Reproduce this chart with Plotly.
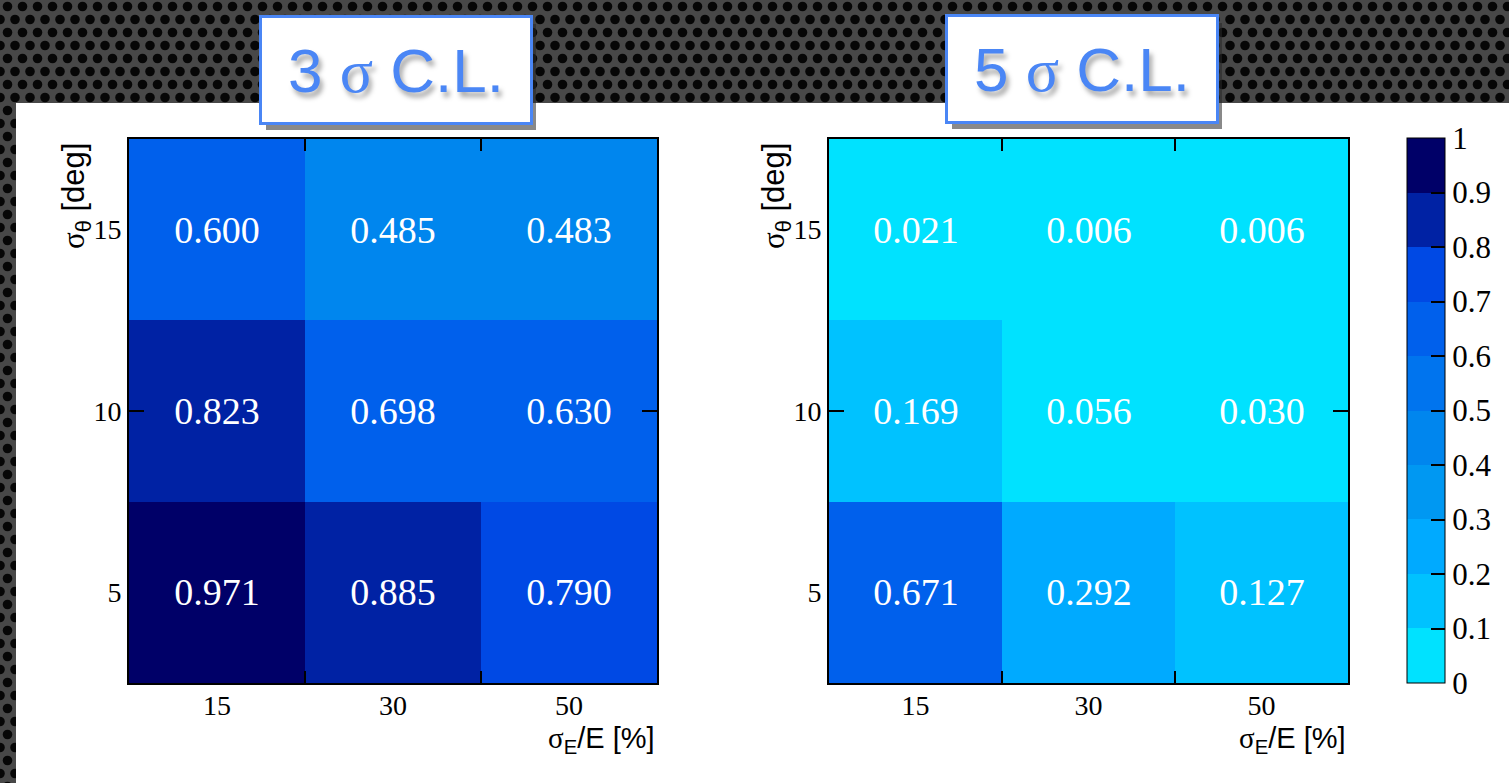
import base64
import plotly.graph_objects as go

# ---------------- data ----------------
x_labels = ["15", "30", "50"]          # sigma_E / E [%]
y_labels = [5, 10, 15]                 # sigma_theta [deg]
x_pos = [0, 1, 2]

z_3sigma = [
    [0.971, 0.885, 0.790],   # 5 deg
    [0.823, 0.698, 0.630],   # 10 deg
    [0.600, 0.485, 0.483],   # 15 deg
]
z_5sigma = [
    [0.671, 0.292, 0.127],
    [0.169, 0.056, 0.030],
    [0.021, 0.006, 0.006],
]
titles = ["3 σ C.L.", "5 σ C.L."]

bin_colors = ["#00E2FF", "#00C2FF", "#00AAFF", "#0098F2", "#0086EE",
              "#0074EE", "#0060EC", "#0049E4", "#0022A4", "#000068"]
cbar_ticks = [i / 10 for i in range(11)]
cbar_text = ["0", "0.1", "0.2", "0.3", "0.4", "0.5", "0.6", "0.7", "0.8", "0.9", "1"]

# ---------------- helpers ----------------
W, H = 1509, 783
def px(v):
    return v / W
def py(v):
    return 1 - v / H

colorscale = []
n = len(bin_colors)
for i, c in enumerate(bin_colors):
    colorscale.append([i / n, c])
    colorscale.append([(i + 1) / n, c])

svg = f'''<svg xmlns="http://www.w3.org/2000/svg" width="{W}" height="{H}">
<defs><pattern id="p" width="15" height="26" patternUnits="userSpaceOnUse">
<rect width="15" height="26" fill="#484848"/>
<circle cx="7.5" cy="6.5" r="4.8" fill="#060606"/>
<circle cx="0" cy="19.5" r="4.8" fill="#060606"/>
<circle cx="15" cy="19.5" r="4.8" fill="#060606"/>
</pattern></defs>
<rect width="{W}" height="{H}" fill="url(#p)"/>
<rect x="16" y="103" width="{W-16}" height="{H-103}" fill="white"/>
</svg>'''
bg_src = "data:image/svg+xml;base64," + base64.b64encode(svg.encode()).decode()

SERIF = "Liberation Serif"
SANS = "Liberation Sans"

fig = go.Figure()
for k, z in enumerate([z_3sigma, z_5sigma]):
    fig.add_trace(go.Heatmap(
        x=x_pos, y=y_labels, z=z,
        coloraxis="coloraxis",
        xaxis="x" if k == 0 else "x2",
        yaxis="y" if k == 0 else "y2",
        texttemplate="%{z:.3f}",
        textfont=dict(family=SERIF, size=38, color="white"),
        hoverinfo="skip",
    ))

domains_x = [[px(129), px(657)], [px(829), px(1348)]]
dom_y = [py(683), py(139)]

def xaxis_cfg(dom, anchor):
    return dict(domain=dom, anchor=anchor, range=[-0.5, 2.5],
                tickmode="array", tickvals=x_pos, ticktext=x_labels, ticks="",
                showline=True, linecolor="black", linewidth=2, mirror="ticks",
                showgrid=False, zeroline=False, ticklabelstandoff=-4,
                tickfont=dict(family=SERIF, size=28, color="black"),
                minor=dict(tickmode="array", tickvals=[0.5, 1.5], ticks="inside",
                           ticklen=12, tickwidth=2, tickcolor="black", showgrid=False))

def yaxis_cfg(anchor):
    return dict(domain=dom_y, anchor=anchor, range=[2.5, 17.5],
                tickmode="array", tickvals=y_labels, ticktext=[str(v) for v in y_labels],
                ticks="", showline=True, linecolor="black", linewidth=2, mirror="ticks",
                showgrid=False, zeroline=False,
                tickfont=dict(family=SERIF, size=28, color="black"),
                minor=dict(tickmode="array", tickvals=[10], ticks="inside",
                           ticklen=15, tickwidth=2, tickcolor="black", showgrid=False))

annotations = []
box_centers = [(396, 70), (1082, 69)]
for t, (cx, cy) in zip(titles, box_centers):
    parts = t.split("σ")
    txt = parts[0] + f'<span style="font-family:{SERIF}">σ</span>' + parts[1]
    annotations.append(dict(xref="paper", yref="paper", x=px(cx), y=py(cy),
                            xanchor="center", yanchor="middle", text=" ",
                            width=268, height=104, bgcolor="rgba(40,40,40,0.55)",
                            xshift=5, yshift=-7, showarrow=False, borderwidth=0))
    annotations.append(dict(xref="paper", yref="paper", x=px(cx), y=py(cy),
                            xanchor="center", yanchor="middle", text=txt,
                            width=268, height=104, bgcolor="white",
                            bordercolor="#4A86F5", borderwidth=3, borderpad=0,
                            showarrow=False,
                            font=dict(family=SANS, size=62, color="#4A86F5",
                                      shadow="3px 5px 5px rgba(0,0,0,0.35)")))

for xr, ylab_x in [(657, 76), (1348, 776)]:
    annotations.append(dict(xref="paper", yref="paper", x=px(xr), y=py(740),
                            xanchor="right", yanchor="middle", showarrow=False,
                            text=f'<span style="font-family:{SERIF}">σ</span><sub>E</sub>/E [%]',
                            font=dict(family=SANS, size=29, color="black")))
    annotations.append(dict(xref="paper", yref="paper", x=px(ylab_x), y=py(196),
                            xanchor="center", yanchor="middle", showarrow=False,
                            textangle=-90,
                            text=f'<span style="font-family:{SERIF}">σ</span><sub>θ</sub> [deg]',
                            font=dict(family=SANS, size=31, color="black")))

fig.update_layout(
    width=W, height=H,
    margin=dict(l=0, r=0, t=0, b=0),
    paper_bgcolor="#444444",
    plot_bgcolor="rgba(0,0,0,0)",
    showlegend=False,
    xaxis=xaxis_cfg(domains_x[0], "y"),
    yaxis=yaxis_cfg("x"),
    xaxis2=xaxis_cfg(domains_x[1], "y2"),
    yaxis2=yaxis_cfg("x2"),
    coloraxis=dict(
        colorscale=colorscale, cmin=0, cmax=1,
        colorbar=dict(
            tickmode="array", tickvals=cbar_ticks, ticktext=cbar_text,
            ticks="inside", ticklen=14, tickwidth=2, tickcolor="black",
            outlinecolor="black", outlinewidth=1,
            thicknessmode="pixels", thickness=38,
            lenmode="pixels", len=545,
            x=px(1407), xanchor="left", y=py(683), yanchor="bottom",
            xpad=0, ypad=0,
            tickfont=dict(family=SERIF, size=31, color="black"),
        ),
    ),
    images=[dict(source=bg_src, xref="paper", yref="paper", x=0, y=1,
                 sizex=1, sizey=1, xanchor="left", yanchor="top",
                 sizing="stretch", layer="below")],
    annotations=annotations,
)

fig.write_html("out.html")
